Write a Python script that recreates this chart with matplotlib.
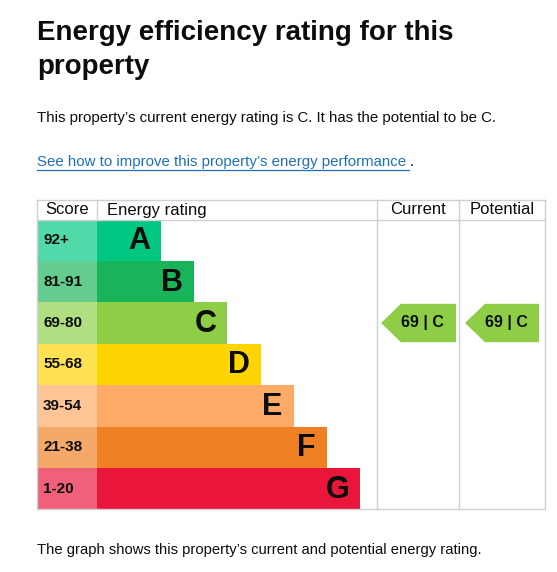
import matplotlib
matplotlib.use("Agg")
import matplotlib.pyplot as plt
from matplotlib.patches import Rectangle, Polygon
from matplotlib.colors import to_rgb

bands = ["A", "B", "C", "D", "E", "F", "G"]
scores = ["92+", "81-91", "69-80", "55-68", "39-54", "21-38", "1-20"]
colors = ["#00c781", "#19b459", "#8dce46", "#ffd500", "#fcaa65", "#ef8023", "#e9153b"]
current_score, current_band = 69, "C"
potential_score, potential_band = 69, "C"

W, H = 557, 572
fig = plt.figure(figsize=(W/100, H/100), dpi=100)
ax = fig.add_axes([0, 0, 1, 1])
ax.set_xlim(0, W); ax.set_ylim(H, 0); ax.axis("off")
FONT = "Liberation Sans"
TXT = "#0b0c0c"

ax.text(37, 50, "Energy efficiency rating for this\nproperty", fontsize=20, fontweight="bold",
        family=FONT, color=TXT, va="center", linespacing=1.45)
ax.text(37, 118, "This property\u2019s current energy rating is C. It has the potential to be C.",
        fontsize=10.8, family=FONT, color=TXT, va="center")
ax.text(37, 162, "See how to improve this property\u2019s energy performance", fontsize=10.8,
        family=FONT, color="#1d70b8", va="center")
ax.plot([37, 409], [170, 170], color="#1d70b8", lw=0.9)
ax.text(410, 162, ".", fontsize=10.8, family=FONT, color=TXT, va="center")
ax.text(37, 550, "The graph shows this property\u2019s current and potential energy rating.",
        fontsize=10.6, family=FONT, color=TXT, va="center")

top, head, rh = 200, 219.5, 41.4
x0, xs, xc, xp, xr = 37, 97, 377, 459, 545
grid = "#d0d0d0"
bottom = head + rh*len(bands)
hs = 12
ax.text(x0+30, 210, "Score", fontsize=hs, family=FONT, color=TXT, ha="center", va="center")
ax.text(xs+10, 210, "Energy rating", fontsize=hs, family=FONT, color=TXT, va="center")
ax.text((xc+xp)/2, 210, "Current", fontsize=hs, family=FONT, color=TXT, ha="center", va="center")
ax.text((xp+xr)/2, 210, "Potential", fontsize=hs, family=FONT, color=TXT, ha="center", va="center")

unit = 33.2
for i, (b, s, c) in enumerate(zip(bands, scores, colors)):
    y = head + i*rh
    rgb = to_rgb(c)
    light = tuple(0.68*v + 0.32 for v in rgb)
    ax.add_patch(Rectangle((x0, y), xs-x0, rh, color=light, lw=0))
    wbar = 64 + unit*i
    ax.add_patch(Rectangle((xs, y), wbar, rh, color=c, lw=0))
    ax.text(x0+6, y+rh/2, s, fontsize=11, fontweight="bold", family=FONT, color=TXT, va="center")
    ax.text(xs+wbar-11, y+rh/2+1, b, fontsize=22, fontweight="bold", family=FONT, color=TXT,
            ha="right", va="center")

def arrow(left, right, score, band):
    i = bands.index(band)
    y1 = head + i*rh + 1.5; y2 = y1 + rh - 3
    ym = (y1+y2)/2
    ax.add_patch(Polygon([(left, ym), (left+20, y1), (right, y1), (right, y2), (left+20, y2)],
                         closed=True, color=colors[i], lw=0))
    ax.text((left+right)/2+4, ym, f"{score} | {band}", fontsize=11.5, fontweight="bold",
            family=FONT, color=TXT, ha="center", va="center")

arrow(381, 456, current_score, current_band)
arrow(465, 539, potential_score, potential_band)

lw = 1
for yy in [top, head, bottom]:
    ax.plot([x0, xr], [yy, yy], color=grid, lw=lw)
for xx in [x0, xr, xc, xp]:
    ax.plot([xx, xx], [top, bottom], color=grid, lw=lw)
ax.plot([xs, xs], [top, head], color=grid, lw=lw)

fig.savefig("out.png", dpi=100)
